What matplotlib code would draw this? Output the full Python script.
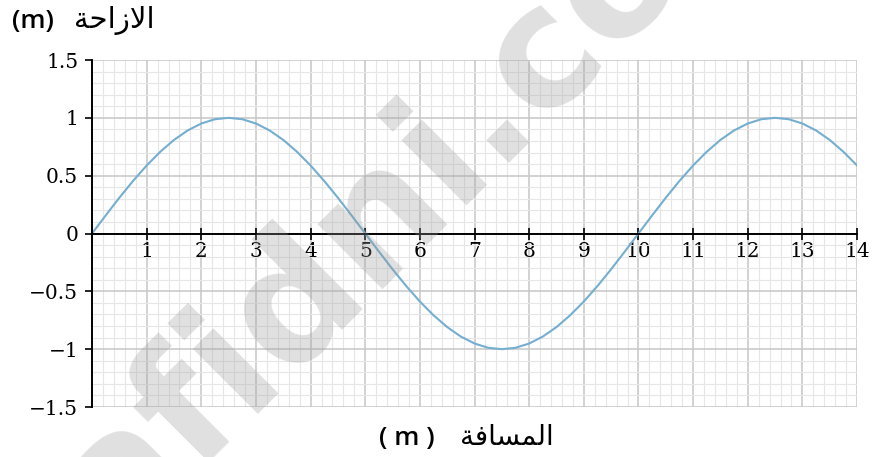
import numpy as np
import matplotlib.pyplot as plt
from matplotlib.ticker import MultipleLocator

# wave, one point every 0.25 m
distance = np.linspace(0, 14, 57)
displacement = [
    0.0, 0.156, 0.309, 0.454, 0.588, 0.707, 0.809, 0.891, 0.951, 0.988, 1.0,
    0.988, 0.951, 0.891, 0.809, 0.707, 0.588, 0.454, 0.309, 0.156, 0.0,
    -0.156, -0.309, -0.454, -0.588, -0.707, -0.809, -0.891, -0.951, -0.988, -1.0,
    -0.988, -0.951, -0.891, -0.809, -0.707, -0.588, -0.454, -0.309, -0.156, 0.0,
    0.156, 0.309, 0.454, 0.588, 0.707, 0.809, 0.891, 0.951, 0.988, 1.0,
    0.988, 0.951, 0.891, 0.809, 0.707, 0.588,
]

x_ticks = list(range(0, 15))
x_labels = [''] + [str(v) for v in range(1, 15)]
y_ticks = [-1.5, -1, -0.5, 0, 0.5, 1, 1.5]
y_labels = ['\u22121.5', '\u22121', '\u22120.5', '0', '0.5', '1', '1.5']

# Arabic words written in shaped presentation forms, visual order
y_word = '\uFE94\uFEA3\uFE8D\uFEAF\uFEFB\uFE8D'   # الازاحة
x_word = '\uFE94\uFED3\uFE8E\uFEB4\uFEE4\uFEDF\uFE8D'   # المسافة
unit_y = '(m)'
unit_x = '( m )'

fig = plt.figure(figsize=(8.73, 4.57), dpi=100)
ax = fig.add_axes([0.1054, 0.1094, 0.8763, 0.7593])

ax.plot(distance, displacement, color='#74aed0', lw=1.5, zorder=3,
        solid_joinstyle='round')

ax.set_xlim(0, 14)
ax.set_ylim(-1.5, 1.5)
ax.set_xticks(x_ticks)
ax.set_xticklabels(x_labels)
ax.set_yticks(y_ticks)
ax.set_yticklabels(y_labels)
ax.xaxis.set_minor_locator(MultipleLocator(0.2))
ax.yaxis.set_minor_locator(MultipleLocator(0.1))

ax.grid(which='major', color='#c6c6c6', lw=1.1)
ax.grid(which='minor', color='#e6e6e6', lw=0.8)
ax.set_axisbelow(True)

ax.spines['top'].set_visible(False)
ax.spines['right'].set_visible(False)
ax.spines['bottom'].set_position(('data', 0))
for s in ('left', 'bottom'):
    ax.spines[s].set_linewidth(1.4)
    ax.spines[s].set_zorder(4)

ax.tick_params(axis='x', which='major', direction='inout', length=8, width=1.2, pad=2,
               labelsize=14.5, labelfontfamily='DejaVu Serif')
ax.tick_params(axis='y', which='major', direction='out', length=5, width=1.2, pad=5,
               labelsize=14.5, labelfontfamily='DejaVu Serif')
ax.tick_params(which='minor', length=0)

# axis titles: unit in latin, word in arabic (DejaVu has the arabic forms)
fig.text(0.0137, 0.952, unit_y, family='Open Sans', fontweight='semibold', fontsize=19,
         ha='left', va='center')
fig.text(0.085, 0.956, y_word, family='DejaVu Sans', fontsize=21,
         ha='left', va='center')
fig.text(0.434, 0.040, unit_x, family='Open Sans', fontweight='semibold', fontsize=19,
         ha='left', va='center')
fig.text(0.527, 0.044, x_word, family='DejaVu Sans', fontsize=20,
         ha='left', va='center')

# faint site watermark across the plot
fig.text(0.425, 0.50, 'afidni.co', family='DejaVu Sans', fontweight='bold', fontsize=120,
         color='#9a9a9a', alpha=0.30, rotation=45, ha='center', va='center', zorder=5)

fig.savefig('out.png', dpi=100)
